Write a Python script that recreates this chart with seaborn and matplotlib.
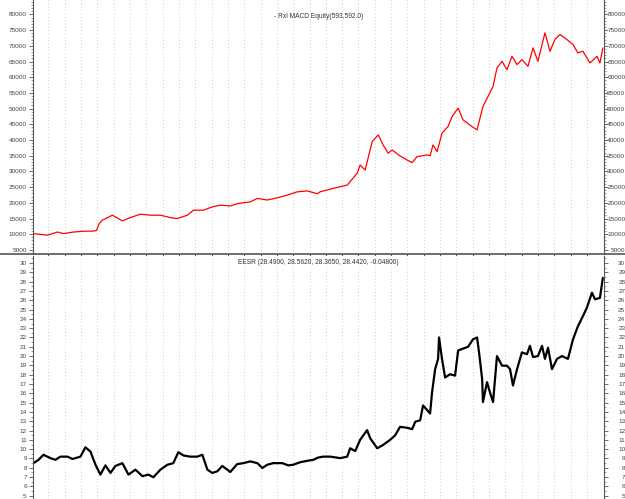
import matplotlib
matplotlib.use("Agg")
import matplotlib.pyplot as plt
from matplotlib.lines import Line2D
from matplotlib.ticker import MultipleLocator, FixedLocator
from matplotlib.transforms import ScaledTranslation
import seaborn as sns
import pandas as pd

# Equity curve of the MACD system (time axis in months from start)
equity_month = [0.08, 0.94, 1.55, 1.92, 2.53, 3.14, 3.75, 3.94, 4.12, 4.30, 4.92, 5.53,
                6.02, 6.63, 7.24, 7.86, 8.47, 8.90, 9.51, 9.88, 10.49, 11.04, 11.53, 12.14,
                12.63, 13.37, 13.80, 14.41, 15.02, 15.63, 16.25, 16.86, 17.47, 17.65, 18.45,
                19.31, 19.92, 20.10, 20.41, 20.84, 21.21, 21.51, 21.82, 22.06, 22.55, 22.98,
                23.29, 23.59, 24.21, 24.39, 24.57, 24.82, 25.12, 25.49, 25.74, 26.11, 26.41,
                26.96, 27.27, 27.63, 27.94, 28.25, 28.49, 28.80, 29.10, 29.41, 29.72, 30.02,
                30.39, 30.70, 31.00, 31.43, 31.74, 32.04, 32.35, 32.78, 33.15, 33.45, 33.76,
                34.19, 34.62, 34.80, 34.98]
equity_value = [10200, 9700, 10700, 10200, 10700, 10950, 11000, 11200, 13500, 14450, 16060,
                14240, 15300, 16380, 16060, 16060, 15300, 15000, 16060, 17660, 17660, 18700,
                19250, 19000, 19800, 20300, 21400, 20900, 21600, 22450, 23500, 23800, 22900,
                23500, 24600, 25650, 29400, 32050, 30450, 39500, 41640, 38440, 35780, 36840,
                34920, 33640, 32790, 34700, 35250, 35000, 38440, 36300, 42180, 44300, 47500,
                50170, 46430, 44300, 43230, 50690, 53880, 57080, 62950, 65070, 62410, 66670,
                64020, 65620, 63470, 69350, 65070, 74140, 68270, 72000, 73600, 72000, 70400,
                67760, 68270, 64540, 66670, 64540, 69350]

# EESR closing price
price_month = [0.08, 0.39, 0.69, 1.12, 1.43, 1.73, 2.16, 2.47, 2.96, 3.26, 3.57, 3.88, 4.18,
               4.49, 4.80, 5.10, 5.53, 5.90, 6.33, 6.76, 7.12, 7.43, 7.86, 8.29, 8.65, 8.96,
               9.27, 9.69, 10.12, 10.43, 10.74, 11.04, 11.35, 11.65, 11.96, 12.14, 12.57,
               12.94, 13.37, 13.80, 14.11, 14.41, 14.78, 15.33, 15.70, 16.00, 16.43, 16.86,
               17.23, 17.53, 17.84, 18.27, 18.88, 19.31, 19.49, 19.80, 20.10, 20.53, 20.72,
               21.15, 21.51, 21.94, 22.25, 22.55, 22.98, 23.29, 23.48, 23.78, 23.96, 24.21,
               24.39, 24.51, 24.70, 24.88, 24.94, 25.12, 25.31, 25.61, 25.92, 26.11, 26.41,
               26.72, 27.02, 27.27, 27.39, 27.58, 27.63, 27.88, 28.06, 28.25, 28.49, 28.80,
               29.10, 29.29, 29.47, 29.72, 30.02, 30.33, 30.51, 30.70, 31.00, 31.25, 31.43,
               31.62, 31.86, 32.17, 32.47, 32.84, 33.15, 33.45, 33.76, 34.00, 34.31, 34.50,
               34.80, 34.98]
price_value = [8.5, 8.86, 9.4, 9.04, 8.86, 9.2, 9.2, 8.95, 9.2, 10.2, 9.75, 8.33, 7.27, 8.26,
               7.45, 8.2, 8.5, 7.27, 7.8, 7.1, 7.27, 6.99, 7.8, 8.33, 8.5, 9.68, 9.33, 9.2, 9.2,
               9.4, 7.8, 7.45, 7.63, 8.2, 7.8, 7.55, 8.4, 8.5, 8.69, 8.5, 7.98, 8.33, 8.5, 8.5,
               8.26, 8.33, 8.6, 8.75, 8.86, 9.1, 9.2, 9.2, 9.04, 9.2, 10.1, 9.8, 11.0, 12.05,
               11.17, 10.1, 10.46, 11.0, 11.5, 12.4, 12.3, 12.15, 12.95, 13.1, 14.7, 14.2, 13.83,
               16.1, 18.6, 19.7, 22.0, 19.7, 17.7, 18.05, 17.9, 20.6, 20.8, 21.0, 21.8, 22.0,
               20.4, 17.55, 15.07, 17.2, 16.1, 15.07, 20.0, 18.97, 18.97, 18.6, 16.84, 18.6,
               20.4, 20.2, 21.1, 19.9, 20.0, 21.1, 19.7, 20.9, 18.6, 19.7, 20.0, 19.7, 21.8,
               23.2, 24.3, 25.2, 26.8, 26.1, 26.25, 28.4]

equity_title = "- Rxl MACD Equity(593,592.0)"
price_title = "EESR (28.4900, 28.5620, 28.3650, 28.4420, -0.04800)"
month_gridlines = list(range(1, 35))
equity_ticks = list(range(5000, 80001, 5000))
price_ticks = list(range(5, 31))

sns.set_style("white")
plt.rcParams["font.family"] = ["Liberation Sans", "DejaVu Sans"]

eq_df = pd.DataFrame({"month": equity_month, "equity": equity_value})
px_df = pd.DataFrame({"month": price_month, "close": price_value})

fig = plt.figure(figsize=(6.25, 4.99), dpi=100)
left, right = 33 / 625, 604 / 625
ax_top = fig.add_axes([left, 1 - 254 / 499, right - left, 254 / 499])
ax_bot = fig.add_axes([left, 0.0, right - left, 1 - 256 / 499])

sns.lineplot(data=eq_df, x="month", y="equity", ax=ax_top, color="#ff0000",
             linewidth=0.9, estimator=None, sort=False)
sns.lineplot(data=px_df, x="month", y="close", ax=ax_bot, color="black",
             linewidth=1.6, estimator=None, sort=False)

label_color = "#444444"
for ax in (ax_top, ax_bot):
    ax.set_xlim(0.05, 35.05)
    ax.set_xlabel("")
    ax.set_ylabel("")
    for side in ("top", "bottom"):
        ax.spines[side].set_visible(False)
    for side in ("left", "right"):
        ax.spines[side].set_color("#555555")
        ax.spines[side].set_linewidth(0.8)
    ax.xaxis.set_major_locator(FixedLocator(month_gridlines))
    ax.grid(axis="x", color="#bdbdbd", linestyle=(0, (1, 3)), linewidth=0.6)
    ax.grid(axis="y", visible=False)
    ax.tick_params(axis="y", which="both", left=True, right=True, labelleft=True,
                   labelright=True, direction="out", color="#555555",
                   labelsize=4.6, labelcolor=label_color)
    ax.tick_params(axis="y", which="major", length=3, width=0.6, pad=1.5)
    ax.tick_params(axis="y", which="minor", length=1.5, width=0.4)

ax_top.tick_params(axis="x", which="major", bottom=True, length=2, color="#555555",
                   labelbottom=False)
ax_bot.tick_params(axis="x", which="major", bottom=False, labelbottom=False)

ax_top.set_ylim(3700, 84600)
ax_top.set_yticks(equity_ticks)
ax_top.yaxis.set_minor_locator(MultipleLocator(1000))
ax_top.set_yticklabels([str(v) for v in equity_ticks])

ax_bot.set_ylim(4.65, 30.75)
ax_bot.set_yticks(price_ticks)
ax_bot.yaxis.set_minor_locator(MultipleLocator(0.5))
ax_bot.set_yticklabels([str(v) for v in price_ticks])

ax_top.text(0.5, 1 - 17 / 254, equity_title, transform=ax_top.transAxes, ha="center",
            va="center", fontsize=4.8, color="#333333")
ax_bot.text(0.5, 1 - 6 / 243, price_title, transform=ax_bot.transAxes, ha="center",
            va="center", fontsize=4.8, color="#333333")

# divider between the two panes, spanning the full width
fig.add_artist(Line2D([0, 1], [1 - 254 / 499, 1 - 254 / 499], transform=fig.transFigure,
                      color="#555555", linewidth=1.2))

# right-hand labels are right-aligned against the page edge
fig.canvas.draw()
offset = ScaledTranslation(10.8 / 72, 0, fig.dpi_scale_trans)
for ax in (ax_top, ax_bot):
    for t in ax.yaxis.get_major_ticks():
        t.label2.set_horizontalalignment("right")
        t.label2.set_transform(t.label2.get_transform() + offset)

fig.savefig("out.png", dpi=100)
